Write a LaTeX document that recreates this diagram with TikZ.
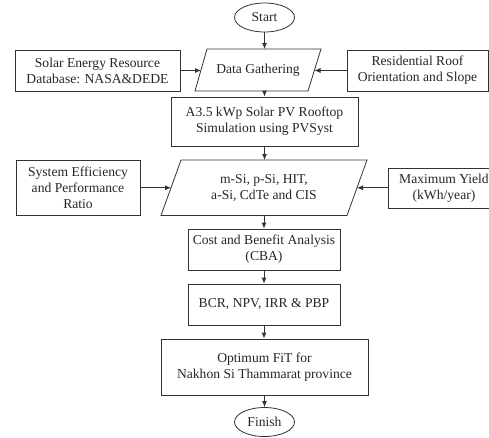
\documentclass[tikz,border=0pt]{standalone}
\usepackage{fontspec}
\setmainfont{Liberation Serif}
\usetikzlibrary{shapes.geometric,arrows.meta,calc}

\begin{document}
\begin{tikzpicture}[x=1pt,y=-1pt,
  every node/.style={font=\fontsize{13.6}{16}\selectfont, text=black!85, align=center},
  box/.style={draw=black!80, line width=0.8pt, inner sep=0pt},
  term/.style={ellipse, draw=black!80, line width=0.8pt, inner sep=0pt,
               minimum width=60pt, minimum height=29pt},
  outline/.style={draw=black!80, line width=0.8pt},
  arr/.style={draw=black!80, line width=0.8pt, -{Latex[length=6pt,width=5pt]}}]

\useasboundingbox (0,0) rectangle (489,437);
\clip (0,0) rectangle (489,437);

% terminals
\node[term] (start) at (264.5,17.5) {Start};
\node[term] (finish) at (264.5,422) {Finish};

% data gathering stage
\node[box, minimum width=165pt, minimum height=41pt] (src) at (97.5,70.5)
  {Solar Energy Resource\\Database: NASA\&DEDE};
\node[box, minimum width=141pt, minimum height=41pt] (roof) at (417.5,70.5)
  {Residential Roof\\Orientation and Slope};
\draw[outline] (207,49) coordinate (dgTL) -- (321,49) coordinate (dgTR)
  -- (308,91) coordinate (dgBR) -- (195,91) coordinate (dgBL) -- cycle;
\node (dg) at (258,70) {Data Gathering};
\coordinate (dgL) at ($(dgTL)!0.5!(dgBL)$);
\coordinate (dgR) at ($(dgTR)!0.5!(dgBR)$);

% simulation
\node[box, minimum width=187pt, minimum height=49pt] (pv) at (264.5,121.5)
  {A3.5 kWp Solar PV Rooftop\\Simulation using PVSyst};

% module technologies
\node[box, minimum width=124pt, minimum height=55pt] (eff) at (78,187.5)
  {System Efficiency\\and Performance\\Ratio};
\node[box, minimum width=112pt, minimum height=40pt] (yield) at (444,188)
  {Maximum Yield\\(kWh/year)};
\draw[outline] (181,160) coordinate (mtTL) -- (367,160) coordinate (mtTR)
  -- (347,215.5) coordinate (mtBR) -- (161,215.5) coordinate (mtBL) -- cycle;
\node (mt) at (264,188) {m-Si, p-Si, HIT,\\a-Si, CdTe and CIS};
\coordinate (mtL) at ($(mtTL)!0.5!(mtBL)$);
\coordinate (mtR) at ($(mtTR)!0.5!(mtBR)$);

% economic analysis
\node[box, minimum width=152pt, minimum height=41pt] (cba) at (264,249.5)
  {Cost and Benefit Analysis\\(CBA)};
\node[box, minimum width=152pt, minimum height=41pt] (bcr) at (264,304.5)
  {BCR, NPV, IRR \& PBP};
\node[box, minimum width=207pt, minimum height=56pt] (fit) at (264.5,367)
  {Optimum FiT for\\Nakhon Si Thammarat province};

% main flow
\draw[arr] (start) -- (start |- dgTL);
\draw[arr] (pv.north |- dgBL) -- (pv.north);
\draw[arr] (pv.south) -- (pv.south |- mtTL);
\draw[arr] (cba.north |- mtBL) -- (cba.north);
\draw[arr] (cba) -- (bcr);
\draw[arr] (bcr) -- (fit.north -| bcr);
\draw[arr] (fit.south -| finish) -- (finish);

% side inputs
\draw[arr] (src.east) -- (src.east -| dgL);
\draw[arr] (roof.west) -- (roof.west -| dgR);
\draw[arr] (eff.east |- mtL) -- (mtL);
\draw[arr] (yield.west |- mtR) -- (mtR);

\end{tikzpicture}
\end{document}
